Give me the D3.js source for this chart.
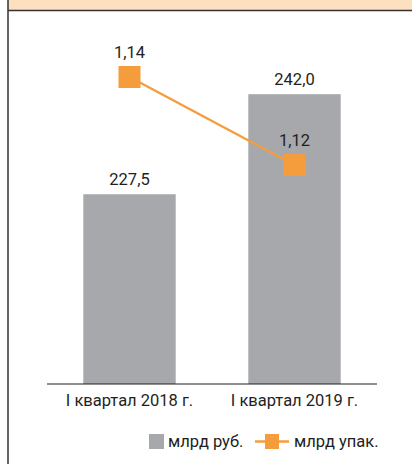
<!DOCTYPE html>
<html>
<head>
<meta charset="utf-8">
<script src="https://cdn.jsdelivr.net/npm/d3@7"></script>
<style>
  body { margin: 0; background: #fff; }
  text { font-family: Roboto, "Noto Sans", sans-serif; fill: #231f20; }
</style>
</head>
<body>
<div id="chart"></div>
<script>
var width = 412;
var height = 464;

// data
let categories = ['I квартал 2018 г.', 'I квартал 2019 г.'];
let rubValues = [227.5, 242.0];
let packValues = [1.14, 1.12];
let rubLabels = ['227,5', '242,0'];
let packLabels = ['1,14', '1,12'];
let legendNames = ['млрд руб.', 'млрд упак.'];

let fs = 16.5;

let svg = d3.select('#chart').append('svg')
    .attr('width', width)
    .attr('height', height);

// frame: top band + left rule
svg.append('rect')
    .attr('x', 8).attr('y', 0)
    .attr('width', width - 8).attr('height', 10)
    .attr('fill', '#fde0bf');
svg.append('line')
    .attr('x1', 8).attr('x2', width)
    .attr('y1', 10.5).attr('y2', 10.5)
    .attr('stroke', '#333').attr('stroke-width', 1.5);
svg.append('line')
    .attr('x1', 8).attr('x2', 8)
    .attr('y1', 0).attr('y2', height)
    .attr('stroke', '#333').attr('stroke-width', 1.5);

let x = d3.scaleBand()
    .domain(categories)
    .range([47, 377])
    .paddingInner(0.44)
    .paddingOuter(0.22);

let y = d3.scaleLinear()
    .domain([200, 250])
    .range([384, 39]);

let y2 = d3.scaleLinear()
    .domain([1.10, 1.15])
    .range([253, 33]);

let g = svg.append('g');

g.selectAll('.bar')
    .data(rubValues)
    .enter()
    .append('rect')
    .attr('class', 'bar')
    .attr('x', (d, i) => x(categories[i]))
    .attr('y', d => y(d))
    .attr('width', x.bandwidth())
    .attr('height', d => y(200) - y(d))
    .attr('fill', '#a7a8ab');

g.selectAll('.barlabel')
    .data(rubValues)
    .enter()
    .append('text')
    .attr('x', (d, i) => x(categories[i]) + x.bandwidth() / 2)
    .attr('y', d => y(d) - 9)
    .attr('text-anchor', 'middle')
    .attr('font-size', fs)
    .text((d, i) => rubLabels[i]);

// x axis
let xAxis = g.append('g')
    .attr('transform', 'translate(0,384)')
    .call(d3.axisBottom(x).tickSize(0).tickPadding(10));
xAxis.select('.domain').remove();
xAxis.append('line')
    .attr('x1', 47).attr('x2', 377)
    .attr('stroke', '#231f20').attr('stroke-width', 1.2);
xAxis.selectAll('.tick text')
    .attr('font-size', fs)
    .attr('font-family', 'Roboto, sans-serif')
    .attr('fill', '#231f20');

// line series
let line = d3.line()
    .x((d, i) => x(categories[i]) + x.bandwidth() / 2)
    .y(d => y2(d));

g.append('path')
    .datum(packValues)
    .attr('d', line)
    .attr('fill', 'none')
    .attr('stroke', '#f59d3d')
    .attr('stroke-width', 2.5);

let ms = 22;
g.selectAll('.marker')
    .data(packValues)
    .enter()
    .append('rect')
    .attr('x', (d, i) => x(categories[i]) + x.bandwidth() / 2 - ms / 2)
    .attr('y', d => y2(d) - ms / 2)
    .attr('width', ms)
    .attr('height', ms)
    .attr('fill', '#f59d3d');

g.selectAll('.linelabel')
    .data(packValues)
    .enter()
    .append('text')
    .attr('x', (d, i) => x(categories[i]) + x.bandwidth() / 2)
    .attr('y', d => y2(d) - 19)
    .attr('text-anchor', 'middle')
    .attr('font-size', fs)
    .text((d, i) => packLabels[i]);

// legend
let lg = svg.append('g').attr('transform', 'translate(149,434)');
lg.append('rect')
    .attr('width', 15).attr('height', 15)
    .attr('fill', '#a7a8ab');
lg.append('text')
    .attr('x', 19).attr('y', 13)
    .attr('font-size', fs)
    .text(legendNames[0]);
lg.append('line')
    .attr('x1', 106).attr('x2', 140)
    .attr('y1', 7.5).attr('y2', 7.5)
    .attr('stroke', '#f59d3d').attr('stroke-width', 2.5);
lg.append('rect')
    .attr('x', 116).attr('y', 0)
    .attr('width', 14).attr('height', 15)
    .attr('fill', '#f59d3d');
lg.append('text')
    .attr('x', 145).attr('y', 13)
    .attr('font-size', fs)
    .text(legendNames[1]);
</script>
</body>
</html>
